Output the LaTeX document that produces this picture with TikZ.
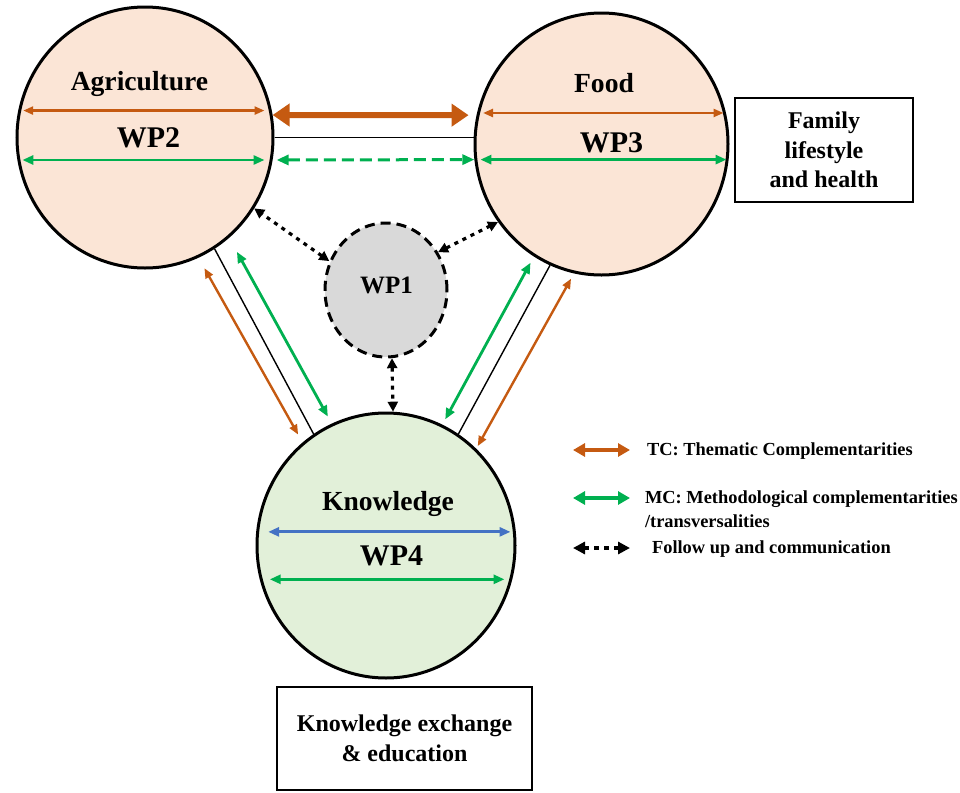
\documentclass[tikz,border=0pt]{standalone}
\usepackage{fontspec}
\setmainfont{Liberation Serif}
\usetikzlibrary{arrows.meta,shapes.geometric}

\definecolor{tcorange}{HTML}{C55A11}
\definecolor{mcgreen}{HTML}{00B050}
\definecolor{kblue}{HTML}{4472C4}
\definecolor{wppeach}{HTML}{FBE5D6}
\definecolor{wpgreen}{HTML}{E2F0D9}
\definecolor{wpgray}{HTML}{D9D9D9}

\begin{document}
\begin{tikzpicture}[x=0.5pt,y=-0.5pt,
    wp/.style={ellipse,draw,line width=1.5pt,inner sep=0pt},
    title/.style={font=\fontsize{13.8}{16}\selectfont\bfseries,anchor=base},
    wplabel/.style={font=\fontsize{15}{18}\selectfont\bfseries,anchor=base},
    outbox/.style={draw,line width=1pt,align=center,inner sep=0pt,font=\fontsize{12}{14.75}\selectfont\bfseries},
    tc/.style={tcorange,line width=1.2pt,{Triangle[length=5pt,width=4pt]}-{Triangle[length=5pt,width=4pt]}},
    mc/.style={mcgreen,line width=1.4pt,{Triangle[length=5.5pt,width=4.5pt]}-{Triangle[length=5.5pt,width=4.5pt]}},
    fu/.style={black,line width=1.6pt,dash pattern=on 2pt off 2.5pt,{Triangle[length=5pt,width=5pt]}-{Triangle[length=5pt,width=5pt]}},
    link/.style={black,line width=0.7pt},
    legend/.style={font=\fontsize{9.2}{12}\selectfont\bfseries,anchor=base west}]

\useasboundingbox (0,0) rectangle (960,793);

% work packages
\node[wp,fill=wppeach,minimum width=128pt,minimum height=130.5pt] (agri) at (145,137.5) {};
\node[wp,fill=wppeach,minimum width=126.5pt,minimum height=131pt] (food) at (601.5,144) {};
\node[wp,fill=wpgreen,minimum width=129pt,minimum height=132.5pt] (know) at (386,545.5) {};
\node[wp,fill=wpgray,dash pattern=on 5pt off 3pt,minimum width=61pt,minimum height=67pt] (wp1) at (386,290) {};

\node[title] (agrititle) at (139.5,90) {Agriculture};
\node[wplabel] (wp2) at (148.5,147) {WP2};
\node[title] (foodtitle) at (604,92) {Food};
\node[wplabel] (wp3) at (611.5,152) {WP3};
\node[title] (knowtitle) at (388,510) {Knowledge};
\node[wplabel] (wp4) at (391.5,565) {WP4};
\node[font=\fontsize{12.5}{15}\selectfont\bfseries,anchor=base] (wp1label) at (386.5,293) {WP1};

% arrows inside the circles
\draw[tc,shorten <=2.5pt,shorten >=5pt] (agri.168) -- (agri.168 -| agri.east);
\draw[mc,shorten <=2.5pt,shorten >=5pt] (agri.190) -- (agri.190 -| agri.east);
\draw[tc,shorten <=3pt,shorten >=3pt] (food.166) -- (food.166 -| food.east);
\draw[mc,shorten <=3pt,shorten >=1.5pt] (food.187.5) -- (food.187.5 -| food.east);
\draw[kblue,line width=1.4pt,{Triangle[length=5.5pt,width=4.5pt]}-{Triangle[length=5.5pt,width=4.5pt]},shorten <=6pt,shorten >=3pt] (know.174.6) -- (know.174.6 -| know.east);
\draw[mc,shorten <=5pt,shorten >=6pt] (know.195) -- (know.195 -| know.east);

% Agriculture <-> Food
\draw[tc,line width=3pt,{Triangle[length=8.5pt,width=11pt]}-{Triangle[length=8.5pt,width=11pt]},shorten >=4pt] (agri.10) -- (food.167);
\draw[black,line width=0.9pt] (agri.east) -- (agri.east -| food.west);
\draw[mc,line width=1.5pt,dash pattern=on 6pt off 3pt,{Triangle[length=6pt,width=5pt]}-{Triangle[length=6pt,width=5pt]},shorten <=2pt] (agri.-10) -- (food.187);

% Agriculture <-> Knowledge
\draw[tc,shorten <=6pt,shorten >=4.5pt] (agri.-66.4) -- (know.129.6);
\draw[link] (agri.-58) -- (know.123);
\draw[mc,shorten <=8pt,shorten >=4pt] (agri.-50.7) -- (know.114.5);

% Food <-> Knowledge
\draw[mc,shorten <=3.5pt,shorten >=3pt] (food.-121.6) -- (know.65.6);
\draw[link] (food.-113.3) -- (know.57.3);
\draw[tc,shorten <=3pt,shorten >=1.5pt] (food.-102.4) -- (know.47);

% follow up from WP1
\draw[fu] (wp1.153) -- (agri.-33.4);
\draw[fu] (wp1.36) -- (food.-143.4);
\draw[fu] (wp1.-85) -- (know.87);

% outcome boxes
\node[outbox,minimum width=89pt,minimum height=52pt] (family) at (824,150) {Family\\lifestyle\\and health};
\node[outbox,minimum width=127.5pt,minimum height=51.5pt] (exchange) at (404.5,738.5) {Knowledge exchange\\\& education};

% legend
\coordinate (tca) at (573,450);
\coordinate (tcb) at (630,450);
\coordinate (mca) at (573,498);
\coordinate (mcb) at (630,498);
\coordinate (fua) at (573,548);
\coordinate (fub) at (630,548);
\draw[tc,line width=2pt,{Triangle[length=6pt,width=6.5pt]}-{Triangle[length=6pt,width=6.5pt]}] (tca) -- (tcb);
\draw[mc,line width=2pt,{Triangle[length=6pt,width=6.5pt]}-{Triangle[length=6pt,width=6.5pt]}] (mca) -- (mcb);
\draw[fu,line width=2pt,dash pattern=on 2.2pt off 2.8pt,{Triangle[length=6pt,width=6pt]}-{Triangle[length=6pt,width=6pt]}] (fua) -- (fub);
\node[legend] (tctext) at (640,455) {TC: Thematic Complementarities};
\node[legend] (mctext) at (638,503) {MC: Methodological complementarities};
\node[legend] (mctext2) at (638,527) {/transversalities};
\node[legend] (futext) at (645,553) {Follow up and communication};
\end{tikzpicture}
\end{document}
